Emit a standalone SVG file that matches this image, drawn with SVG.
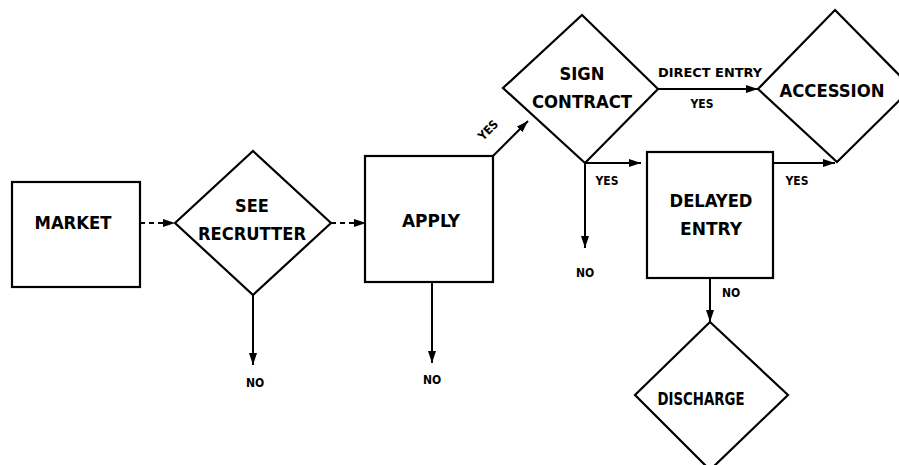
<svg xmlns="http://www.w3.org/2000/svg" width="899" height="465" viewBox="0 0 899 465">
<style>
.s{fill:#fff;stroke:#000;stroke-width:2.2}
.c{fill:none;stroke:#000;stroke-width:2}
.d{stroke-dasharray:5 4}
.t{font-family:"DejaVu Sans Condensed","Liberation Sans",sans-serif;font-weight:bold;font-size:18px;fill:#000;text-anchor:middle}
.l{font-family:"DejaVu Sans Condensed","Liberation Sans",sans-serif;font-weight:bold;font-size:12px;fill:#000;text-anchor:middle}
</style>
<defs>
<marker id="a" viewBox="0 0 12 8" refX="12" refY="4" markerWidth="12" markerHeight="8" markerUnits="userSpaceOnUse" orient="auto">
<path d="M0,0 L12,4 L0,8 Z" fill="#000"/>
</marker>
</defs>
<rect width="899" height="465" fill="#fff"/>
<g id="connectors">
<path class="c d" d="M140,223 H175" marker-end="url(#a)"/>
<path class="c d" d="M331,223 H366" marker-end="url(#a)"/>
<path class="c" d="M253,295 V365" marker-end="url(#a)"/>
<path class="c" d="M432,282 V363" marker-end="url(#a)"/>
<path class="c" d="M493,156 L528,121" marker-end="url(#a)"/>
<path class="c" d="M658,89 H758" marker-end="url(#a)"/>
<path class="c" d="M585,163 H641" marker-end="url(#a)"/>
<path class="c" d="M585,163 V248" marker-end="url(#a)"/>
<path class="c" d="M773,163 H835" marker-end="url(#a)"/>
<path class="c" d="M710,278 V322" marker-end="url(#a)"/>
<text class="l" transform="translate(491,133) rotate(-45)">YES</text>
<text class="l" x="710" y="77" textLength="104" lengthAdjust="spacingAndGlyphs">DIRECT ENTRY</text>
<text class="l" x="702" y="108">YES</text>
<text class="l" x="607" y="185">YES</text>
<text class="l" x="797" y="185">YES</text>
<text class="l" x="731" y="297">NO</text>
<text class="l" x="585" y="277">NO</text>
<text class="l" x="255" y="387">NO</text>
<text class="l" x="432" y="384">NO</text>
</g>
<g id="market">
<rect class="s" x="12" y="182" width="128" height="105"/>
<text class="t" x="73" y="229" textLength="77" lengthAdjust="spacingAndGlyphs">MARKET</text>
</g>
<g id="see-recruiter">
<polygon class="s" points="253,151 331,223 253,295 175,223"/>
<text class="t" x="252" y="212">SEE</text>
<text class="t" x="252" y="240" textLength="108" lengthAdjust="spacingAndGlyphs">RECRUTTER</text>
</g>
<g id="apply">
<rect class="s" x="365" y="156" width="128" height="126"/>
<text class="t" x="431" y="227" textLength="58" lengthAdjust="spacingAndGlyphs">APPLY</text>
</g>
<g id="sign-contract">
<polygon class="s" points="582,15 658,89 585,163 503,88"/>
<text class="t" x="582" y="80" textLength="45" lengthAdjust="spacingAndGlyphs">SIGN</text>
<text class="t" x="582" y="108" textLength="100" lengthAdjust="spacingAndGlyphs">CONTRACT</text>
</g>
<g id="accession">
<polygon class="s" points="835,10 912,88 837,162 758,89"/>
<text class="t" x="832" y="97" textLength="105" lengthAdjust="spacingAndGlyphs">ACCESSION</text>
</g>
<g id="delayed-entry">
<rect class="s" x="647" y="152" width="126" height="126"/>
<text class="t" x="711" y="207" textLength="83" lengthAdjust="spacingAndGlyphs">DELAYED</text>
<text class="t" x="711" y="235" textLength="62" lengthAdjust="spacingAndGlyphs">ENTRY</text>
</g>
<g id="discharge">
<polygon class="s" points="710,322 788,395 710,470 635,395"/>
<text class="t" x="701" y="405" textLength="87" lengthAdjust="spacingAndGlyphs">DISCHARGE</text>
</g>
</svg>
